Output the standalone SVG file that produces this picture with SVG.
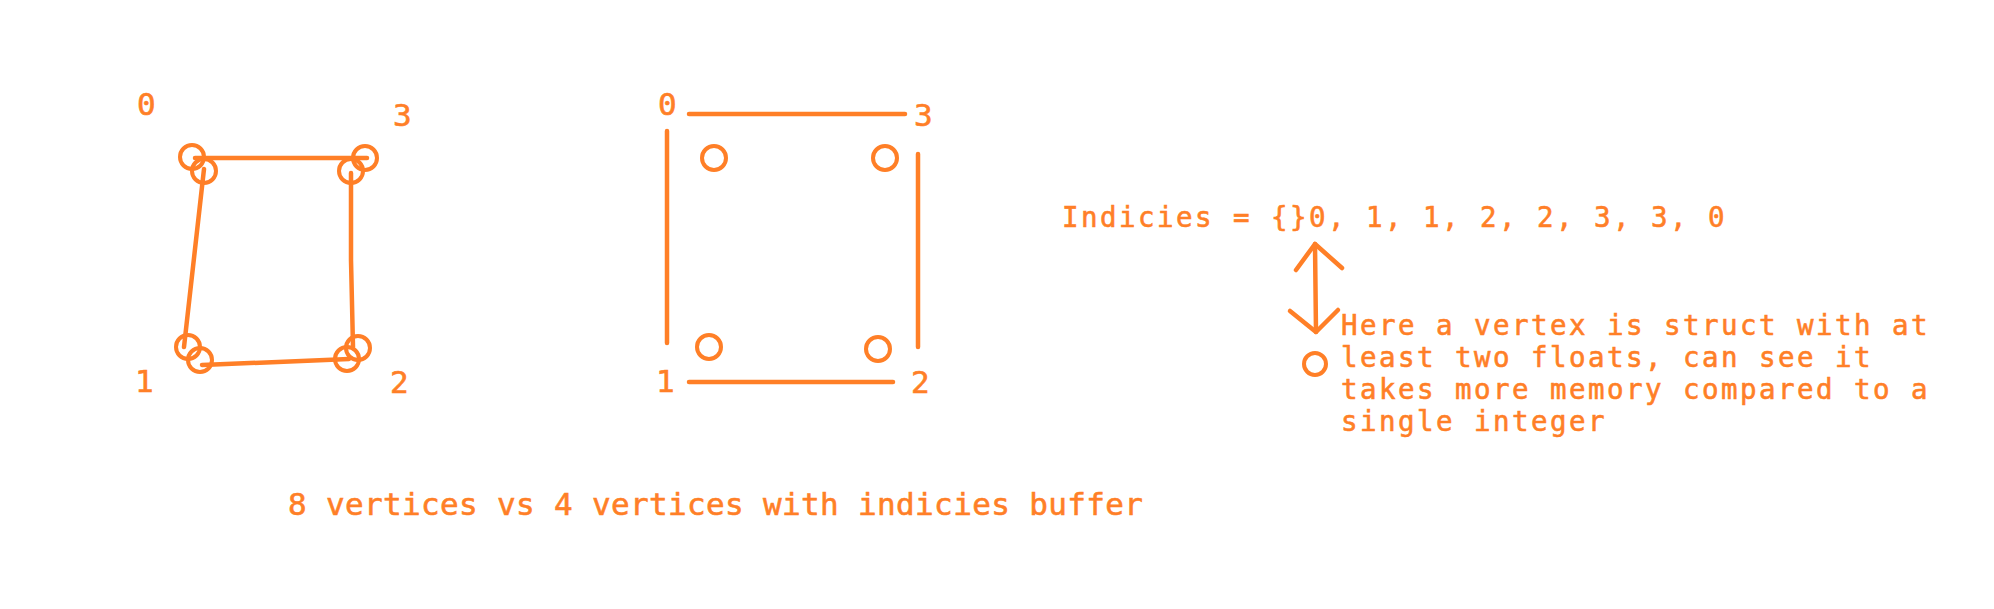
<svg xmlns="http://www.w3.org/2000/svg" width="1994" height="609" viewBox="0 0 1994 609">
<style>
  .bg { fill: #ffffff; }
  .ln { stroke: #ff7f27; stroke-width: 4.5; stroke-linecap: round; stroke-linejoin: round; fill: none; }
  .vx { stroke: #ff7f27; stroke-width: 4; fill: none; }
  .tx { fill: #ff7f27; stroke: #ff7f27; stroke-width: 0.6; font-family: "DejaVu Sans Mono", "Liberation Mono", monospace; }
  .lbl { font-size: 31px; }
  .body { font-size: 27.5px; letter-spacing: 2.44px; }
  .cap { font-size: 31px; letter-spacing: 0.34px; }
</style>
<rect class="bg" x="0" y="0" width="1994" height="609"/>

<!-- Left diagram: 8 vertices -->
<g id="left-v0">
  <circle class="vx" cx="192" cy="157" r="12"/>
  <circle class="vx" cx="204" cy="171" r="12"/>
  <text class="tx lbl" x="137" y="115">0</text>
</g>
<g id="left-v3">
  <circle class="vx" cx="365" cy="158" r="12"/>
  <circle class="vx" cx="351" cy="171" r="12"/>
  <text class="tx lbl" x="393" y="126">3</text>
</g>
<g id="left-v1">
  <circle class="vx" cx="188" cy="347" r="12"/>
  <circle class="vx" cx="200" cy="360" r="12"/>
  <text class="tx lbl" x="135" y="392">1</text>
</g>
<g id="left-v2">
  <circle class="vx" cx="358" cy="348" r="12"/>
  <circle class="vx" cx="347" cy="359" r="12"/>
  <text class="tx lbl" x="390" y="393">2</text>
</g>

<!-- Middle diagram: 4 vertices with index buffer -->
<g id="mid-v0">
  <circle class="vx" cx="714" cy="158" r="12"/>
  <text class="tx lbl" x="658" y="115">0</text>
</g>
<g id="mid-v3">
  <circle class="vx" cx="885" cy="158" r="12"/>
  <text class="tx lbl" x="914" y="126">3</text>
</g>
<g id="mid-v1">
  <circle class="vx" cx="709" cy="347" r="12"/>
  <text class="tx lbl" x="656" y="392">1</text>
</g>
<g id="mid-v2">
  <circle class="vx" cx="878" cy="349" r="12"/>
  <text class="tx lbl" x="911" y="393">2</text>
</g>

<!-- Right side: indices and note -->
<g id="indices">
  <text class="tx body" x="1062" y="227">Indicies = {}0, 1, 1, 2, 2, 3, 3, 0</text>
</g>
<g id="vertex-note">
  <circle class="vx" cx="1315" cy="364" r="11"/>
  <text class="tx body" x="1341" y="335">Here a vertex is struct with at</text>
  <text class="tx body" x="1341" y="367">least two floats, can see it</text>
  <text class="tx body" x="1341" y="399">takes more memory compared to a</text>
  <text class="tx body" x="1341" y="431">single integer</text>
</g>
<g id="caption">
  <text class="tx cap" x="288" y="515">8 vertices vs 4 vertices with indicies buffer</text>
</g>

<!-- Connectors -->
<g id="connectors">
  <!-- left diagram edges -->
  <line class="ln" x1="195" y1="158" x2="367" y2="158"/>
  <line class="ln" x1="204" y1="169" x2="184" y2="347"/>
  <line class="ln" x1="202" y1="365" x2="349" y2="359"/>
  <polyline class="ln" points="351,173 351,260 353,347"/>
  <!-- middle diagram edges -->
  <line class="ln" x1="689" y1="114" x2="905" y2="114"/>
  <line class="ln" x1="667" y1="131" x2="667" y2="343"/>
  <line class="ln" x1="918" y1="154" x2="918" y2="347"/>
  <line class="ln" x1="689" y1="382" x2="893" y2="382"/>
  <!-- double-headed arrow -->
  <line class="ln" x1="1315" y1="244" x2="1316" y2="332"/>
  <polyline class="ln" points="1296,270 1315,244 1342,268"/>
  <polyline class="ln" points="1290,311 1316,332 1338,310"/>
</g>
</svg>
